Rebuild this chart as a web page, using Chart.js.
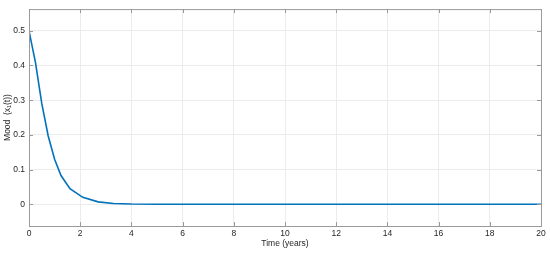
<!DOCTYPE html>
<html>
<head>
<meta charset="utf-8">
<script src="https://cdn.jsdelivr.net/npm/chart.js@4"></script>
<style>
  html, body { margin: 0; padding: 0; background: #fff; }
  #wrap { width: 550px; height: 253px; }
</style>
</head>
<body>
<div id="wrap"><canvas id="moodChart" width="550" height="253"></canvas></div>
<script>
// valores (tempo em anos, humor x1(t))
const times = [0, 0.25, 0.5, 0.75, 1.0, 1.25, 1.6, 2.1, 2.7, 3.3, 4, 5, 6, 8, 10, 12, 14, 16, 18, 20];
const mood  = [0.5, 0.41, 0.29, 0.197, 0.13, 0.083, 0.045, 0.02, 0.007, 0.0025, 0.0008, 0.0002, 0, 0, 0, 0, 0, 0, 0, 0];
const xTicks = [0, 2, 4, 6, 8, 10, 12, 14, 16, 18, 20];
const yTicks = [0, 0.1, 0.2, 0.3, 0.4, 0.5];

const blue = '#0072BD';
const frameColor = '#9a9a9a';
const gridColor = '#ececec';
const textColor = '#262626';
const font = { family: 'Liberation Sans, Arial, sans-serif', size: 8.5 };

// marcas de tick para dentro da caixa, estilo MATLAB
const insideTicks = {
  id: 'insideTicks',
  afterDraw(chart) {
    const c = chart.ctx, a = chart.chartArea;
    const xs = chart.scales.x, ys = chart.scales.y;
    const len = 4;
    c.save();
    c.strokeStyle = frameColor;
    c.lineWidth = 1;
    c.beginPath();
    xTicks.forEach(v => {
      const px = Math.round(xs.getPixelForValue(v)) + 0.5;
      c.moveTo(px, a.bottom); c.lineTo(px, a.bottom - len);
      c.moveTo(px, a.top); c.lineTo(px, a.top + len);
    });
    yTicks.forEach(v => {
      const py = Math.round(ys.getPixelForValue(v)) + 0.5;
      c.moveTo(a.left, py); c.lineTo(a.left + len, py);
      c.moveTo(a.right, py); c.lineTo(a.right - len, py);
    });
    c.stroke();
    c.strokeRect(a.left + 0.5, a.top + 0.5, a.right - a.left, a.bottom - a.top);
    c.restore();
  }
};

new Chart(document.getElementById('moodChart').getContext('2d'), {
  type: 'line',
  data: {
    datasets: [{
      data: times.map((t, i) => ({ x: t, y: mood[i] })),
      borderColor: blue,
      borderWidth: 1.6,
      pointRadius: 0,
      tension: 0,
      fill: false
    }]
  },
  options: {
    responsive: false,
    animation: false,
    devicePixelRatio: 1,
    layout: { padding: { top: 6, right: 9, left: 0, bottom: 0 } },
    plugins: { legend: { display: false }, tooltip: { enabled: false } },
    scales: {
      x: {
        type: 'linear',
        min: 0, max: 20,
        afterBuildTicks: s => { s.ticks = xTicks.map(v => ({ value: v })); },
        afterFit: s => { s.height = 27; },
        grid: { color: gridColor, drawTicks: false },
        border: { display: false },
        ticks: { color: textColor, font: font, padding: 3, maxRotation: 0 },
        title: { display: true, text: 'Time (years)', color: textColor, font: font, padding: { top: 4, bottom: 4 } }
      },
      y: {
        min: -0.0625, max: 0.5625,
        afterBuildTicks: s => { s.ticks = yTicks.map(v => ({ value: v })); },
        afterFit: s => { s.width = 29; },
        grid: { color: gridColor, drawTicks: false },
        border: { display: false },
        ticks: { color: textColor, font: font, padding: 4, callback: v => String(Math.round(v * 10) / 10) },
        title: { display: true, text: 'Mood  (x\u2081(t))', color: textColor, font: font, padding: { top: 3, bottom: 0 } }
      }
    }
  },
  plugins: [insideTicks]
});
</script>
</body>
</html>
